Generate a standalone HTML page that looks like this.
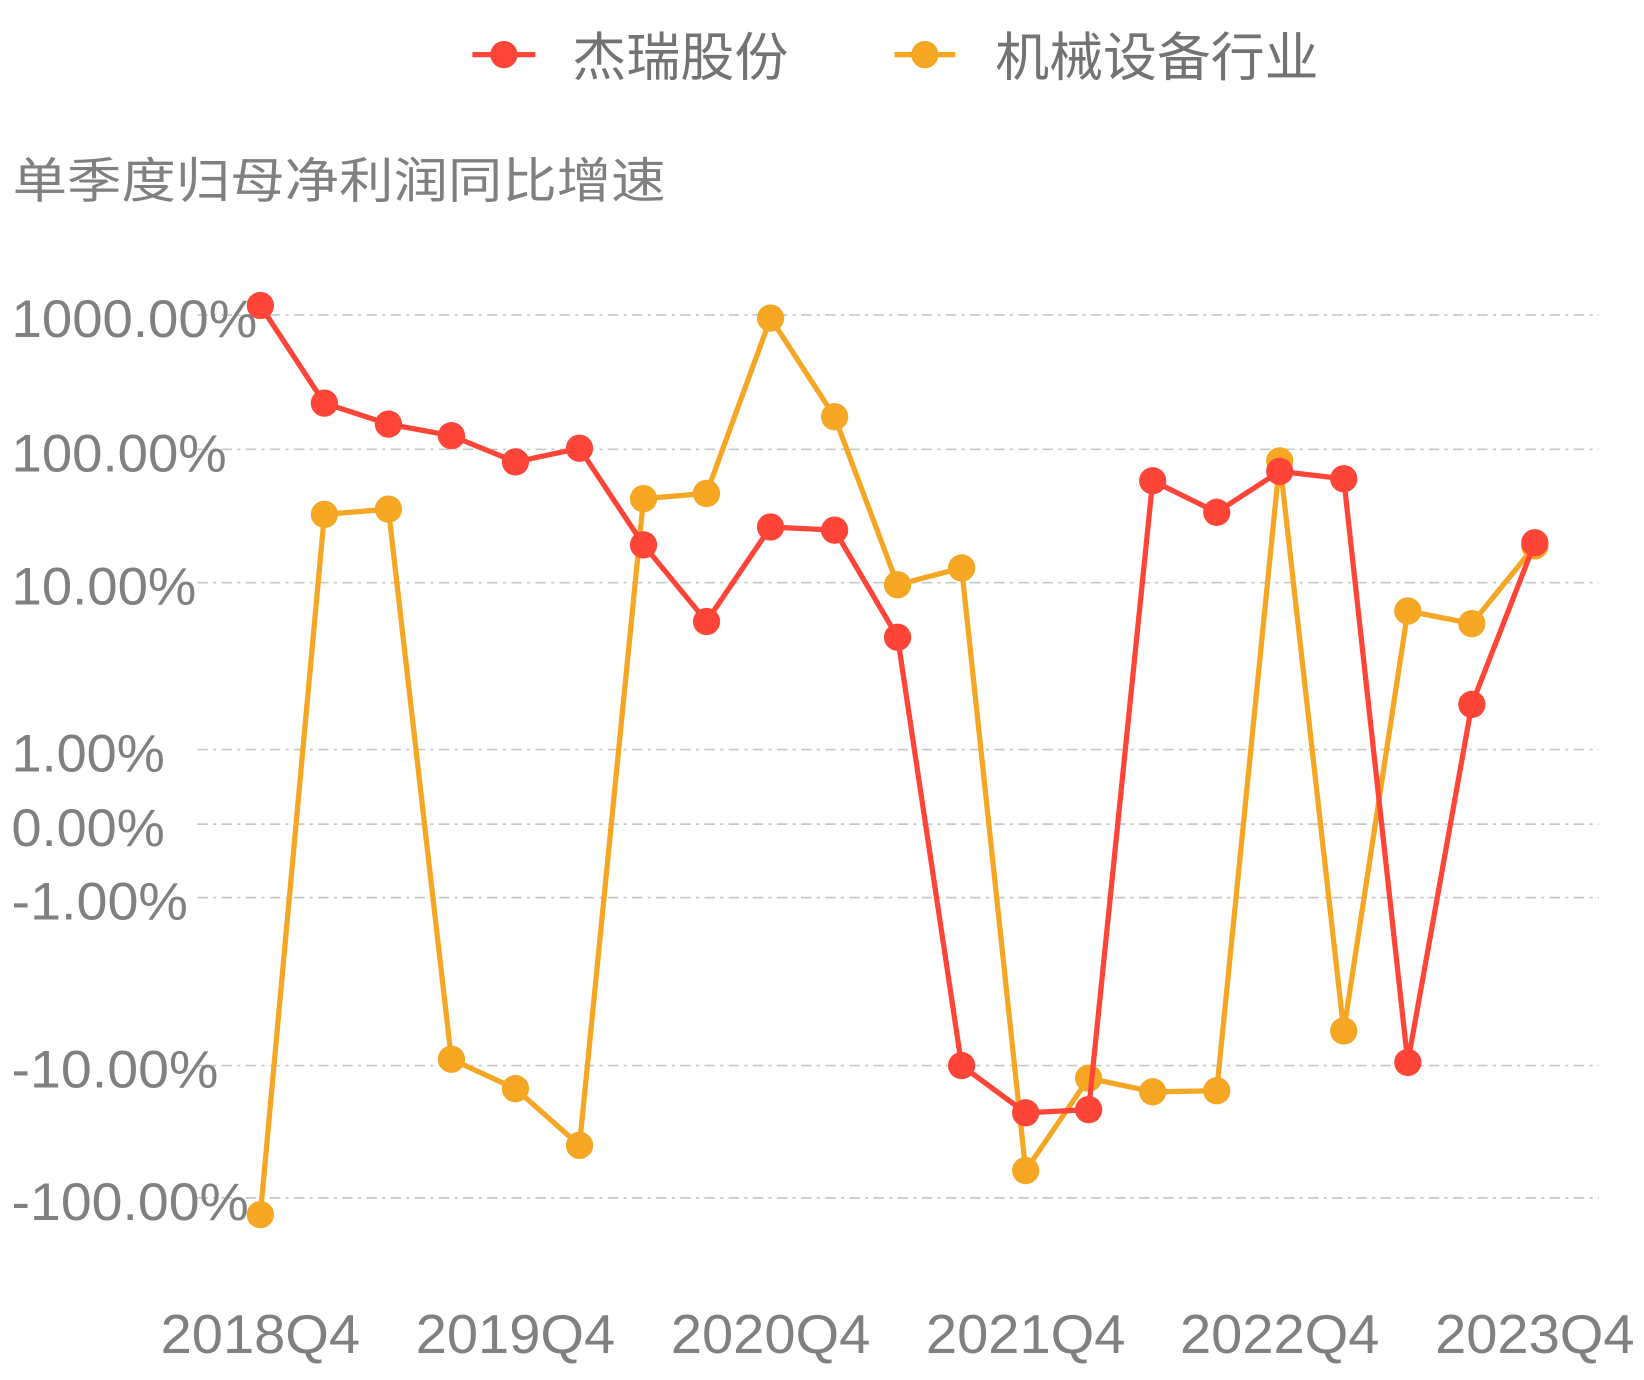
<!DOCTYPE html>
<html><head><meta charset="utf-8"><style>html,body{margin:0;padding:0;background:#fff;}svg{display:block}</style></head>
<body>
<svg width="1644" height="1380" viewBox="0 0 1566 1314.5" preserveAspectRatio="none" xmlns="http://www.w3.org/2000/svg" font-family="'Liberation Sans','Noto Sans CJK SC',sans-serif">
<g stroke="#c8c8c8" stroke-width="1.6" stroke-dasharray="10,5,3,5">
<line x1="188" x2="1523" y1="300" y2="300"/>
<line x1="188" x2="1523" y1="428" y2="428"/>
<line x1="188" x2="1523" y1="555" y2="555"/>
<line x1="188" x2="1523" y1="714" y2="714"/>
<line x1="188" x2="1523" y1="785" y2="785"/>
<line x1="188" x2="1523" y1="855" y2="855"/>
<line x1="188" x2="1523" y1="1015" y2="1015"/>
<line x1="188" x2="1523" y1="1141" y2="1141"/>
</g>
<g fill="#808080" font-size="50">
<text x="11" y="321" textLength="234" lengthAdjust="spacingAndGlyphs">1000.00%</text>
<text x="11" y="449" textLength="205" lengthAdjust="spacingAndGlyphs">100.00%</text>
<text x="11" y="576" textLength="176" lengthAdjust="spacingAndGlyphs">10.00%</text>
<text x="11" y="735" textLength="146" lengthAdjust="spacingAndGlyphs">1.00%</text>
<text x="11" y="806" textLength="146" lengthAdjust="spacingAndGlyphs">0.00%</text>
<text x="11" y="876" textLength="168" lengthAdjust="spacingAndGlyphs">-1.00%</text>
<text x="11" y="1036" textLength="197" lengthAdjust="spacingAndGlyphs">-10.00%</text>
<text x="11" y="1162" textLength="226" lengthAdjust="spacingAndGlyphs">-100.00%</text>
</g>
<g fill="#808080" font-size="52" text-anchor="middle">
<text x="248" y="1289" textLength="190" lengthAdjust="spacingAndGlyphs">2018Q4</text>
<text x="491" y="1289" textLength="190" lengthAdjust="spacingAndGlyphs">2019Q4</text>
<text x="734" y="1289" textLength="190" lengthAdjust="spacingAndGlyphs">2020Q4</text>
<text x="977" y="1289" textLength="190" lengthAdjust="spacingAndGlyphs">2021Q4</text>
<text x="1219" y="1289" textLength="190" lengthAdjust="spacingAndGlyphs">2022Q4</text>
<text x="1462" y="1289" textLength="190" lengthAdjust="spacingAndGlyphs">2023Q4</text>
</g>
<text x="12" y="188" fill="#808080" font-size="46" textLength="622" lengthAdjust="spacingAndGlyphs">单季度归母净利润同比增速</text>
<line x1="450" x2="510" y1="52" y2="52" stroke="#ff4438" stroke-width="5"/>
<circle cx="480" cy="52" r="13" fill="#ff4438"/>
<text x="545" y="72" fill="#737373" font-size="50" textLength="206" lengthAdjust="spacingAndGlyphs">杰瑞股份</text>
<line x1="852" x2="910" y1="52" y2="52" stroke="#f5a623" stroke-width="5"/>
<circle cx="881" cy="52" r="13" fill="#f5a623"/>
<text x="948" y="72" fill="#737373" font-size="50" textLength="308" lengthAdjust="spacingAndGlyphs">机械设备行业</text>
<g fill="#f5a623" stroke="#f5a623">
<polyline fill="none" stroke-width="5" stroke-linejoin="round" points="248,1157 309,490 370,485 430,1009 491,1037 552,1091 613,475 673,470 734,303 795,397 855,557 916,541 977,1115 1037,1027 1098,1040 1159,1039 1219,439 1280,982 1341,582 1402,594 1462,520"/>
<g stroke="none">
<circle cx="248" cy="1157" r="13"/><circle cx="309" cy="490" r="13"/><circle cx="370" cy="485" r="13"/><circle cx="430" cy="1009" r="13"/><circle cx="491" cy="1037" r="13"/><circle cx="552" cy="1091" r="13"/><circle cx="613" cy="475" r="13"/><circle cx="673" cy="470" r="13"/><circle cx="734" cy="303" r="13"/><circle cx="795" cy="397" r="13"/><circle cx="855" cy="557" r="13"/><circle cx="916" cy="541" r="13"/><circle cx="977" cy="1115" r="13"/><circle cx="1037" cy="1027" r="13"/><circle cx="1098" cy="1040" r="13"/><circle cx="1159" cy="1039" r="13"/><circle cx="1219" cy="439" r="13"/><circle cx="1280" cy="982" r="13"/><circle cx="1341" cy="582" r="13"/><circle cx="1402" cy="594" r="13"/><circle cx="1462" cy="520" r="13"/>
</g></g>
<g fill="#ff4438" stroke="#ff4438">
<polyline fill="none" stroke-width="5" stroke-linejoin="round" points="248,291 309,384 370,404 430,415 491,440 552,427 613,519 673,592 734,502 795,505 855,607 916,1015 977,1060 1037,1057 1098,458 1159,488 1219,449 1280,456 1341,1012 1402,671 1462,517"/>
<g stroke="none">
<circle cx="248" cy="291" r="13"/><circle cx="309" cy="384" r="13"/><circle cx="370" cy="404" r="13"/><circle cx="430" cy="415" r="13"/><circle cx="491" cy="440" r="13"/><circle cx="552" cy="427" r="13"/><circle cx="613" cy="519" r="13"/><circle cx="673" cy="592" r="13"/><circle cx="734" cy="502" r="13"/><circle cx="795" cy="505" r="13"/><circle cx="855" cy="607" r="13"/><circle cx="916" cy="1015" r="13"/><circle cx="977" cy="1060" r="13"/><circle cx="1037" cy="1057" r="13"/><circle cx="1098" cy="458" r="13"/><circle cx="1159" cy="488" r="13"/><circle cx="1219" cy="449" r="13"/><circle cx="1280" cy="456" r="13"/><circle cx="1341" cy="1012" r="13"/><circle cx="1402" cy="671" r="13"/><circle cx="1462" cy="517" r="13"/>
</g></g>
</svg>
</body></html>
